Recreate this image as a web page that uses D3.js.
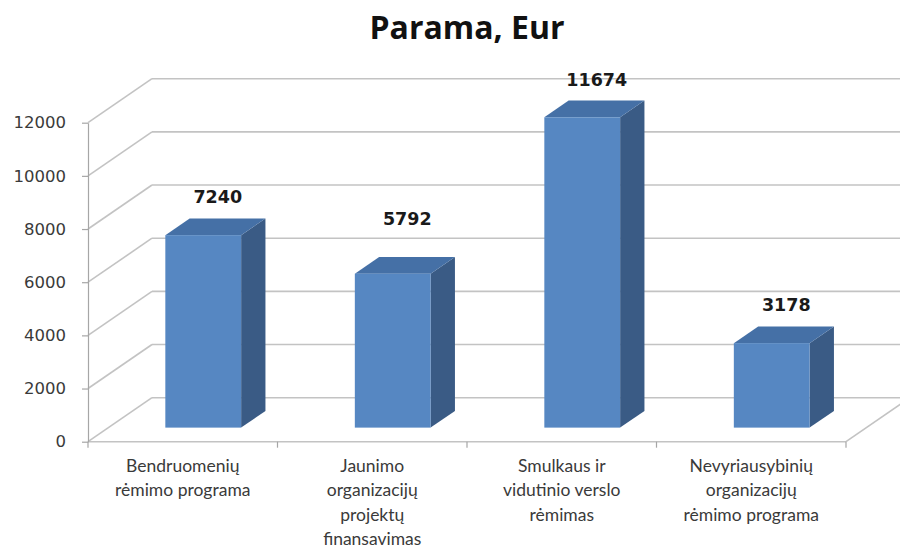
<!DOCTYPE html>
<html>
<head>
<meta charset="utf-8">
<script src="https://cdn.jsdelivr.net/npm/d3@7"></script>
<style>
  body { margin: 0; background: #fff; }
  svg { display: block; }
</style>
</head>
<body>
<div id="chart"></div>
<script>
// Duomenys
const categories = [
  ["Bendruomenių", "rėmimo programa"],
  ["Jaunimo", "organizacijų", "projektų", "finansavimas"],
  ["Smulkaus ir", "vidutinio verslo", "rėmimas"],
  ["Nevyriausybinių", "organizacijų", "rėmimo programa"]
];
const values = [7240, 5792, 11674, 3178];
const yTicks = [0, 2000, 4000, 6000, 8000, 10000, 12000];

const width = 900, height = 550;

// 3D gylis (kaip Excel)
const DX = 64, DY = -44;
const barFront = 0.32, barBack = 0.70;

const svg = d3.select("#chart").append("svg")
  .attr("width", width)
  .attr("height", height);

const x = d3.scaleBand()
  .domain(d3.range(values.length))
  .range([88, 846]);

const y = d3.scaleLinear()
  .domain([0, 12000])
  .range([441.7, 122.7]);

const gridColor = "#c3c3c3";

// sienos: kairė ir galinė
const walls = svg.append("g");
yTicks.forEach(t => {
  walls.append("line")
    .attr("x1", 88).attr("y1", y(t))
    .attr("x2", 88 + DX).attr("y2", y(t) + DY)
    .attr("stroke", gridColor).attr("stroke-width", 1.6);
  walls.append("line")
    .attr("x1", 88 + DX).attr("y1", y(t) + DY)
    .attr("x2", 846 + DX).attr("y2", y(t) + DY)
    .attr("stroke", gridColor).attr("stroke-width", 1.6);
});

// grindys
walls.append("line")
  .attr("x1", 88).attr("y1", y(0))
  .attr("x2", 846).attr("y2", y(0))
  .attr("stroke", gridColor).attr("stroke-width", 1.6);
walls.append("line")
  .attr("x1", 846).attr("y1", y(0))
  .attr("x2", 846 + DX).attr("y2", y(0) + DY)
  .attr("stroke", gridColor).attr("stroke-width", 1.6);

// kategorijų žymės
walls.selectAll(".ctick")
  .data(d3.range(values.length + 1))
  .join("line")
  .attr("x1", i => 88 + i * x.bandwidth())
  .attr("x2", i => 88 + i * x.bandwidth())
  .attr("y1", y(0)).attr("y2", y(0) + 6)
  .attr("stroke", "#a6a6a6").attr("stroke-width", 1.2);

// Y ašis
const yAxis = svg.append("g")
  .attr("transform", "translate(88,0)")
  .call(d3.axisLeft(y).tickValues(yTicks).tickFormat(d3.format("d"))
    .tickSize(6).tickSizeOuter(0).tickPadding(16));
yAxis.select(".domain").attr("stroke", "#a6a6a6").attr("stroke-width", 1.2);
yAxis.selectAll(".tick line").attr("stroke", "#a6a6a6").attr("stroke-width", 1.2);
yAxis.selectAll(".tick text")
  .attr("font-family", "DejaVu Sans")
  .attr("font-size", 16.5)
  .attr("fill", "#3a3a3a");

// stulpeliai
const bw = x.bandwidth() * 0.4;
const bars = svg.append("g");
values.forEach((v, i) => {
  const cx = x(i) + x.bandwidth() / 2;
  const fx = cx + DX * barFront - bw / 2;
  const fy0 = y(0) + DY * barFront;
  const top = fy0 - (y(0) - y(v));
  const ox = DX * (barBack - barFront), oy = DY * (barBack - barFront);

  // šonas
  bars.append("path")
    .attr("d", `M${fx + bw},${top} L${fx + bw + ox},${top + oy} L${fx + bw + ox},${fy0 + oy} L${fx + bw},${fy0} Z`)
    .attr("fill", "#3a5b85");
  // viršus
  bars.append("path")
    .attr("d", `M${fx},${top} L${fx + ox},${top + oy} L${fx + bw + ox},${top + oy} L${fx + bw},${top} Z`)
    .attr("fill", "#4570a6");
  // priekis
  bars.append("rect")
    .attr("x", fx).attr("y", top)
    .attr("width", bw).attr("height", fy0 - top)
    .attr("fill", "#5687c2");
});

// reikšmių etiketės
const labelShift = [0, -17, 0, 0];
svg.append("g").selectAll("text")
  .data(values)
  .join("text")
  .attr("x", (d, i) => x(i) + x.bandwidth() / 2 + 35)
  .attr("y", (d, i) => y(d) + DY * barBack - 15 + labelShift[i])
  .attr("text-anchor", "middle")
  .attr("font-family", "DejaVu Sans")
  .attr("font-weight", "bold")
  .attr("font-size", 17.5)
  .attr("fill", "#1a1a1a")
  .text(d => d);

// kategorijų pavadinimai
const catG = svg.append("g");
categories.forEach((lines, i) => {
  const t = catG.append("text")
    .attr("text-anchor", "middle")
    .attr("font-family", "Lato")
    .attr("font-size", 17.5)
    .attr("fill", "#3a3a3a");
  lines.forEach((ln, j) => {
    t.append("tspan")
      .attr("x", x(i) + x.bandwidth() / 2)
      .attr("y", 472 + j * 24.3)
      .text(ln);
  });
});

// pavadinimas
svg.append("text")
  .attr("x", 467)
  .attr("y", 39)
  .attr("text-anchor", "middle")
  .attr("font-family", "Open Sans")
  .attr("font-weight", "bold")
  .attr("font-size", 32)
  .attr("fill", "#111")
  .text("Parama, Eur");
</script>
</body>
</html>
